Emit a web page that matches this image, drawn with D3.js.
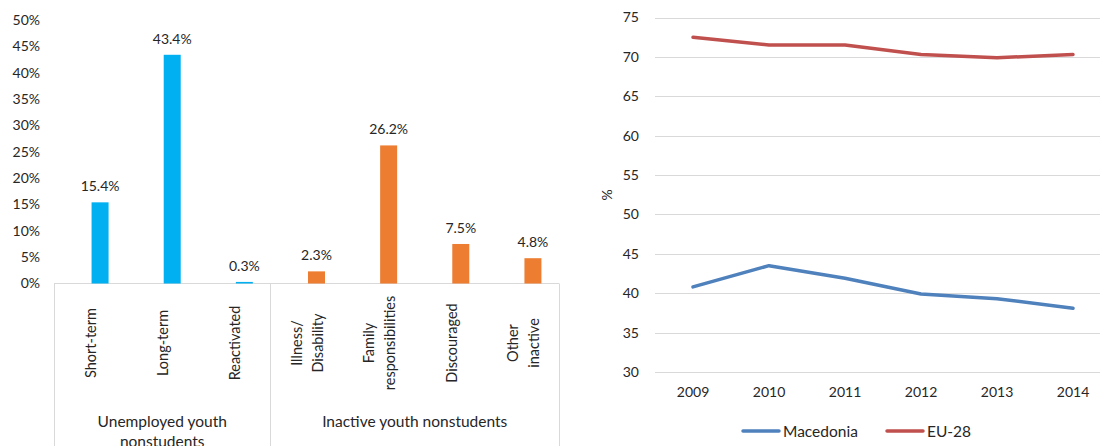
<!DOCTYPE html>
<html>
<head>
<meta charset="utf-8">
<script src="https://cdn.jsdelivr.net/npm/d3@7"></script>
<style>
  html, body { margin: 0; padding: 0; background: #fff; }
  svg { display: block; font-family: Lato, "Open Sans", sans-serif; }
  text { fill: #262626; }
</style>
</head>
<body>
<svg id="chart" width="1100" height="446"></svg>
<script>
// ---- Youth nonstudents by status (left panel) ----
const categories = ["Short-term", "Long-term", "Reactivated", "Illness/\nDisability",
                    "Family\nresponsibilities", "Discouraged", "Other\ninactive"];
const categoryGroup = ["Unemployed youth\nnonstudents", "Unemployed youth\nnonstudents", "Unemployed youth\nnonstudents",
                       "Inactive youth nonstudents", "Inactive youth nonstudents", "Inactive youth nonstudents", "Inactive youth nonstudents"];
const shares = [15.4, 43.4, 0.3, 2.3, 26.2, 7.5, 4.8];
const barTicks = [0, 5, 10, 15, 20, 25, 30, 35, 40, 45, 50];

// ---- Share over time (right panel) ----
const years = ["2009", "2010", "2011", "2012", "2013", "2014"];
const macedonia = [40.8, 43.5, 41.9, 39.9, 39.3, 38.1];
const eu28 = [72.5, 71.5, 71.5, 70.3, 69.9, 70.3];
const lineTicks = [30, 35, 40, 45, 50, 55, 60, 65, 70, 75];

const svg = d3.select("#chart");
const groupColor = { "Unemployed youth\nnonstudents": "#00b0f0", "Inactive youth nonstudents": "#ed7d31" };
const textColor = "#262626";

// ================= Left: bar chart =================
const L = { left: 54, right: 559, top: 20, base: 283.5 };
const x = d3.scaleBand().domain(categories).range([L.left, L.right]);
const y = d3.scaleLinear().domain([0, 50]).range([L.base, L.top]);
const barW = 17, barShift = 10;

const left = svg.append("g");

// y tick labels (no axis line)
const yAxis = d3.axisLeft(y).tickValues(barTicks).tickFormat(d => d + "%").tickSize(0).tickPadding(0);
left.append("g").attr("transform", "translate(40,0)").call(yAxis)
  .call(g => g.select(".domain").remove())
  .call(g => g.selectAll("text").attr("font-size", 14).attr("fill", textColor).attr("font-family", "Lato, sans-serif"));

// category frame: base line plus group separators
const groups = Array.from(new Set(categoryGroup));
const groupSpan = groups.map(gName => {
  const cats = categories.filter((c, i) => categoryGroup[i] === gName);
  return { name: gName, x0: x(cats[0]), x1: x(cats[cats.length - 1]) + x.bandwidth() };
});
left.append("line").attr("x1", L.left).attr("x2", L.right).attr("y1", L.base).attr("y2", L.base)
  .attr("stroke", "#d9d9d9").attr("stroke-width", 1);
const seps = [groupSpan[0].x0].concat(groupSpan.map(g => g.x1));
left.selectAll("line.sep").data(seps).join("line").attr("class", "sep")
  .attr("x1", d => Math.round(d) + 0.5).attr("x2", d => Math.round(d) + 0.5)
  .attr("y1", L.base).attr("y2", 446)
  .attr("stroke", "#d9d9d9").attr("stroke-width", 1);

// bars
left.selectAll("rect.bar").data(categories).join("rect").attr("class", "bar")
  .attr("x", d => x(d) + x.bandwidth() / 2 + barShift - barW / 2)
  .attr("width", barW)
  .attr("y", (d, i) => y(shares[i]))
  .attr("height", (d, i) => y(0) - y(shares[i]))
  .attr("fill", (d, i) => groupColor[categoryGroup[i]]);

// value labels
left.selectAll("text.val").data(categories).join("text").attr("class", "val")
  .attr("x", d => x(d) + x.bandwidth() / 2 + barShift)
  .attr("y", (d, i) => y(shares[i]) - 11)
  .attr("text-anchor", "middle").attr("font-size", 14)
  .text((d, i) => shares[i].toFixed(1) + "%");

// rotated category labels
const catLabels = left.selectAll("g.cat").data(categories).join("g").attr("class", "cat")
  .attr("transform", d => `translate(${x(d) + x.bandwidth() / 2 + 1},343) rotate(-90)`);
catLabels.each(function (d) {
  const lines = d.split("\n");
  const t = d3.select(this).append("text").attr("text-anchor", "middle").attr("font-size", 14.5);
  lines.forEach((ln, k) => {
    t.append("tspan").attr("x", 0)
      .attr("y", (k - (lines.length - 1) / 2) * 21 + 5)
      .text(ln);
  });
});

// group labels
groupSpan.forEach(g => {
  const lines = g.name.split("\n");
  const t = left.append("text").attr("text-anchor", "middle").attr("font-size", 15.5);
  lines.forEach((ln, k) => {
    t.append("tspan").attr("x", (g.x0 + g.x1) / 2)
      .attr("y", 427 + k * 20).text(ln);
  });
});

// ================= Right: line chart =================
const R = { left: 655, right: 1111, top: 17.5, bottom: 372 };
const rx = d3.scaleBand().domain(years).range([R.left, R.right]);
const ry = d3.scaleLinear().domain([30, 75]).range([R.bottom, R.top]);
const right = svg.append("g");
right.append("clipPath").attr("id", "clipR").append("rect")
  .attr("x", 600).attr("y", 0).attr("width", 500).attr("height", 446);

// horizontal grid
right.append("g").attr("clip-path", "url(#clipR)")
  .selectAll("line").data(lineTicks).join("line")
  .attr("x1", R.left).attr("x2", R.right)
  .attr("y1", d => Math.round(ry(d)) + 0.5).attr("y2", d => Math.round(ry(d)) + 0.5)
  .attr("stroke", "#d9d9d9").attr("stroke-width", 1);

// y tick labels
const ryAxis = d3.axisLeft(ry).tickValues(lineTicks).tickSize(0).tickPadding(0);
right.append("g").attr("transform", "translate(639,0)").call(ryAxis)
  .call(g => g.select(".domain").remove())
  .call(g => g.selectAll("text").attr("font-size", 14).attr("fill", textColor).attr("font-family", "Lato, sans-serif"));

// x tick labels
const rxAxis = d3.axisBottom(rx).tickSize(0).tickPadding(0);
right.append("g").attr("transform", "translate(0,387)").call(rxAxis)
  .call(g => g.select(".domain").remove())
  .call(g => g.selectAll("text").attr("font-size", 14).attr("fill", textColor).attr("font-family", "Lato, sans-serif"));

// y axis title
right.append("text").attr("transform", "translate(612,195) rotate(-90)")
  .attr("text-anchor", "middle").attr("font-size", 14).text("%");

const series = [
  { name: "Macedonia", values: macedonia, color: "#4f81bd" },
  { name: "EU-28", values: eu28, color: "#c0504d" }
];
const line = d3.line()
  .x((d, i) => rx(years[i]) + rx.bandwidth() / 2)
  .y(d => ry(d));
right.selectAll("path.series").data(series).join("path").attr("class", "series")
  .attr("d", s => line(s.values))
  .attr("fill", "none").attr("stroke", s => s.color)
  .attr("stroke-width", 3.5).attr("stroke-linejoin", "round").attr("stroke-linecap", "round");

// legend
const legendX = [743, 887];
const leg = right.selectAll("g.leg").data(series).join("g").attr("class", "leg")
  .attr("transform", (s, i) => `translate(${legendX[i]},431)`);
leg.append("line").attr("x1", 0).attr("x2", 36).attr("y1", 0).attr("y2", 0)
  .attr("stroke", s => s.color).attr("stroke-width", 3.5).attr("stroke-linecap", "round");
leg.append("text").attr("x", 40).attr("y", 5.5).attr("font-size", 15.5).text(s => s.name);
</script>
</body>
</html>
